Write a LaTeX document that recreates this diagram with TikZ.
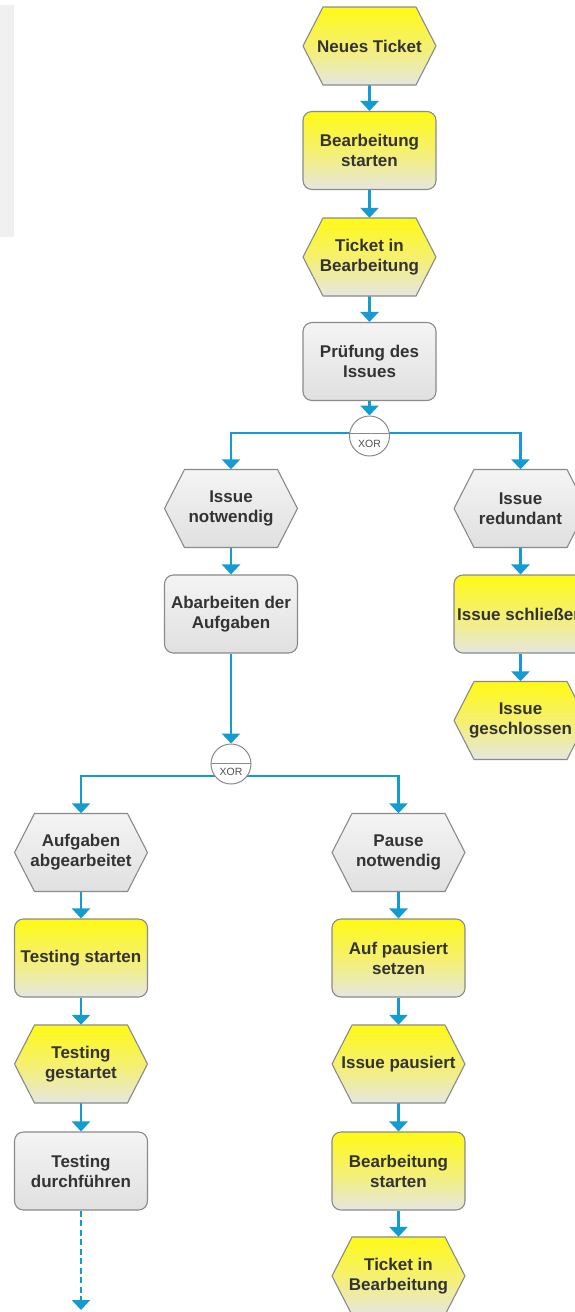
\documentclass[tikz,border=0pt]{standalone}
\usepackage{fontspec}
\setmainfont{Liberation Sans}
\usetikzlibrary{arrows.meta,backgrounds}
\definecolor{conn}{RGB}{20,155,210}
\definecolor{bord}{RGB}{138,138,138}
\definecolor{txt}{RGB}{51,51,51}
\definecolor{ytop}{RGB}{255,250,20}
\definecolor{ymid}{RGB}{245,240,110}
\definecolor{ybot}{RGB}{230,230,225}
\definecolor{gtop}{RGB}{244,244,244}
\definecolor{gbot}{RGB}{224,224,224}
\definecolor{panel}{RGB}{240,240,240}
\definecolor{xorgray}{RGB}{80,80,80}
\tikzset{
  yel/.style={top color=ytop, bottom color=ybot, middle color=ymid},
  gry/.style={top color=gtop, bottom color=gbot},
  lbl/.style={minimum width=133pt, minimum height=78pt, inner sep=0pt, align=center,
    font=\fontsize{17}{20}\selectfont\bfseries, text=txt},
  task/.style={lbl, draw=bord, line width=1.1pt, rounded corners=9pt},
  evshape/.style={draw=bord, line width=1.1pt},
  link/.style={draw=conn, line width=2.8pt, -{Triangle[width=18pt,length=10pt]}},
  xorc/.style={circle, draw=bord, line width=1pt, fill=white, minimum size=40pt, inner sep=0pt},
  xort/.style={font=\fontsize{10.5}{12}\selectfont, text=xorgray, inner sep=0pt},
  chord/.style={draw=bord, line width=1pt}
}
\newcommand{\evnode}[5]{%
  \path[evshape,#4] (#2-66.5,#3) -- (#2-46.5,#3+39) -- (#2+46.5,#3+39) -- (#2+66.5,#3)
    -- (#2+46.5,#3-39) -- (#2-46.5,#3-39) -- cycle;
  \node[lbl] (#1) at (#2,#3) {#5};}
\begin{document}
\begin{tikzpicture}[x=1pt,y=1pt]
\useasboundingbox (0,0) rectangle (575,-1312);
\begin{scope}[on background layer]
  \fill[white] (0,0) rectangle (575,-1312);
  \fill[panel] (0,-5) rectangle (14,-237);
\end{scope}
\clip (0,0) rectangle (575,-1312);
% main column
\evnode{n1}{369.5}{-46}{yel}{Neues Ticket}
\node[task,yel] (n2) at (369.5,-150.5) {Bearbeitung\\starten};
\evnode{n3}{369.5}{-257}{yel}{Ticket in\\Bearbeitung}
\node[task,gry] (n4) at (369.5,-361.5) {Prüfung des\\Issues};
\node[xorc] (x1) at (369.5,-436) {};
\draw[chord] ([shift={(-19.8,3)}]x1.center) -- ([shift={(19.8,3)}]x1.center);
\node[xort] (x1t) at (369.5,-443.5) {XOR};
% second level
\evnode{n5}{231}{-508.5}{gry}{Issue\\notwendig}
\node[task,gry] (n6) at (231,-614) {Abarbeiten der\\Aufgaben};
\evnode{n7}{520.5}{-508.5}{gry}{Issue\\redundant}
\node[task,yel] (n8) at (520.5,-614) {Issue schließen};
\evnode{n9}{520.5}{-720.5}{yel}{Issue\\geschlossen}
\node[xorc] (x2) at (231,-764) {};
\draw[chord] ([shift={(-20,1)}]x2.center) -- ([shift={(20,1)}]x2.center);
\node[xort] (x2t) at (231,-771.5) {XOR};
% third level left
\evnode{n10}{81}{-852.5}{gry}{Aufgaben\\abgearbeitet}
\node[task,yel] (n11) at (81,-958) {Testing starten};
\evnode{n12}{81}{-1064}{yel}{Testing\\gestartet}
\node[task,gry] (n13) at (81,-1171) {Testing\\durchführen};
\coordinate (end) at (81,-1310);
% third level right
\evnode{n14}{398.5}{-852.5}{gry}{Pause\\notwendig}
\node[task,yel] (n15) at (398.5,-958) {Auf pausiert\\setzen};
\evnode{n16}{398.5}{-1064}{yel}{Issue pausiert}
\node[task,yel] (n17) at (398.5,-1171) {Bearbeitung\\starten};
\evnode{n18}{398.5}{-1276}{yel}{Ticket in\\Bearbeitung}
% connectors
\begin{scope}[on background layer]
  \draw[link] (n1.south) -- (n2.north);
  \draw[link] (n2.south) -- (n3.north);
  \draw[link] (n3.south) -- (n4.north);
  \draw[link] (n4.south) -- (x1.north);
  \draw[link] ([yshift=3pt]x1.center) -| (n5.north);
  \draw[link] ([yshift=3pt]x1.center) -| (n7.north);
  \draw[link] (n5.south) -- (n6.north);
  \draw[link] (n7.south) -- (n8.north);
  \draw[link] (n8.south) -- (n9.north);
  \draw[link] (n6.south) -- (x2.north);
  \draw[link] ([yshift=-12pt]x2.center) -| (n10.north);
  \draw[link] ([yshift=-12pt]x2.center) -| (n14.north);
  \draw[link] (n10.south) -- (n11.north);
  \draw[link] (n11.south) -- (n12.north);
  \draw[link] (n12.south) -- (n13.north);
  \draw[link, dash pattern=on 6pt off 3.5pt] (n13.south) -- (end);
  \draw[link] (n14.south) -- (n15.north);
  \draw[link] (n15.south) -- (n16.north);
  \draw[link] (n16.south) -- (n17.north);
  \draw[link] (n17.south) -- (n18.north);
\end{scope}
\end{tikzpicture}
\end{document}
